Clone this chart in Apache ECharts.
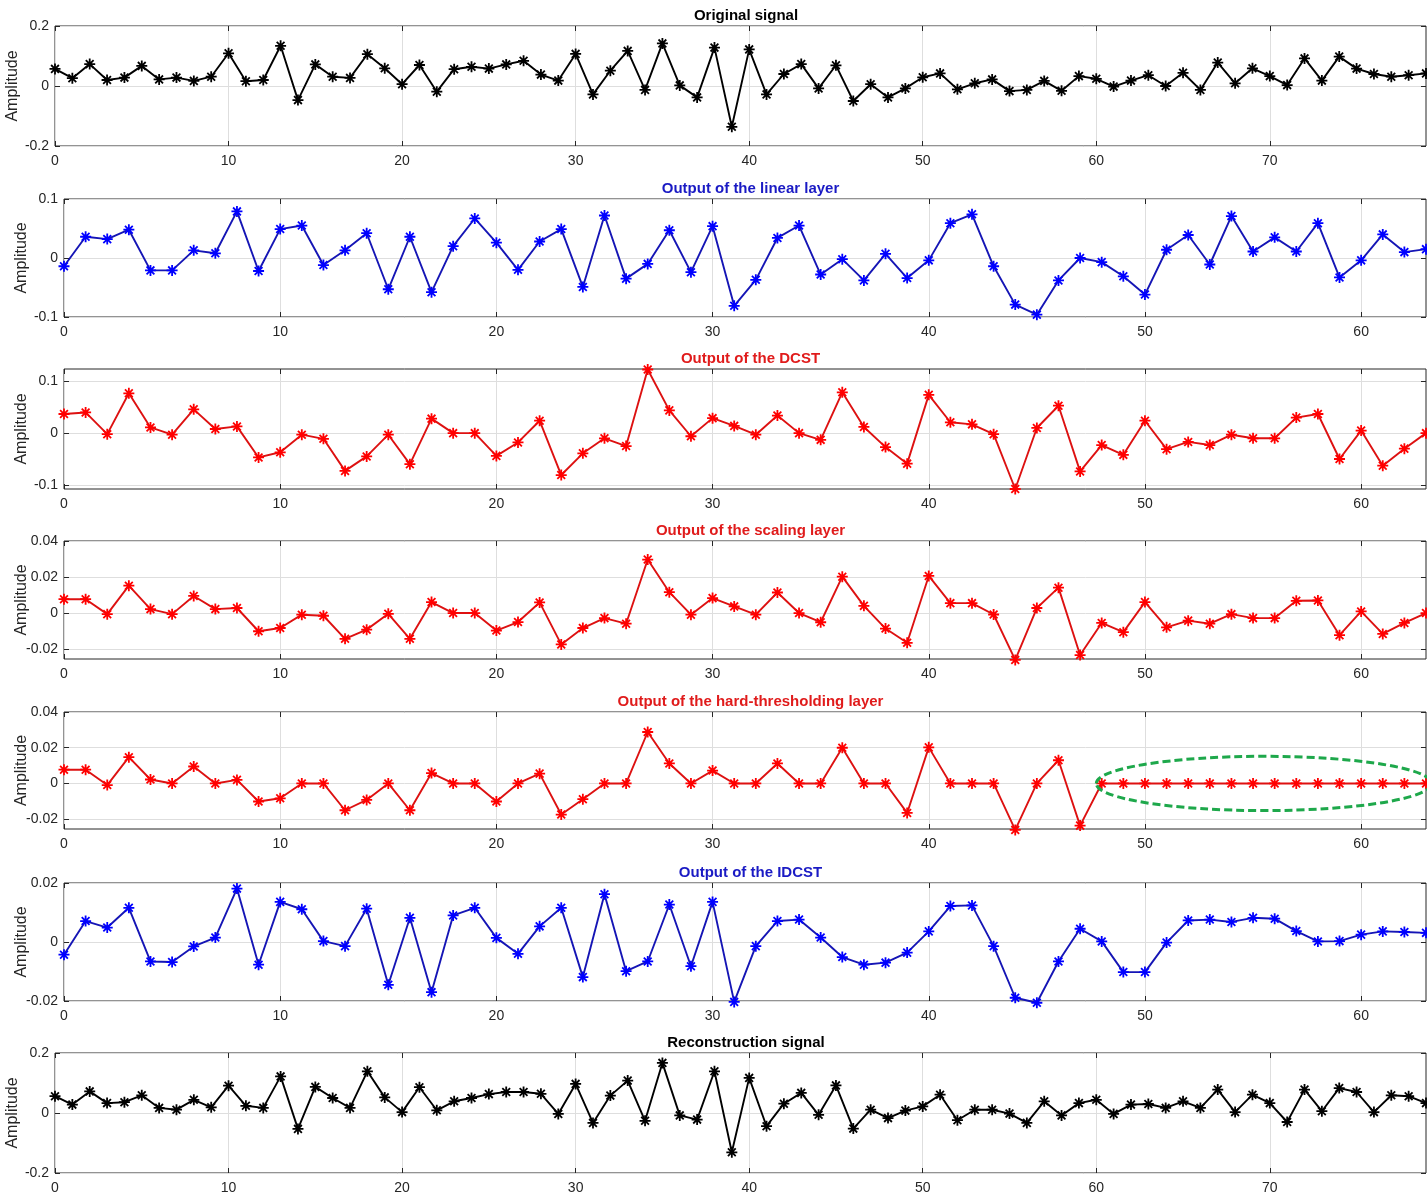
<!DOCTYPE html>
<html><head><meta charset="utf-8">
<script src="https://cdn.jsdelivr.net/npm/echarts@6/dist/echarts.min.js"></script>
<style>html,body{margin:0;padding:0;background:#fff}#c{width:1427px;height:1198px}</style>
</head><body><div id="c"></div>
<script>
// ---------------- data ----------------
const originalSignal = [0.057,0.026,0.073,0.020,0.028,0.067,0.022,0.028,0.017,0.031,
  0.109,0.016,0.020,0.134,-0.047,0.072,0.031,0.027,0.106,0.059,
  0.006,0.070,-0.019,0.056,0.064,0.058,0.072,0.084,0.038,0.018,
  0.107,-0.028,0.051,0.117,-0.013,0.142,0.002,-0.038,0.128,-0.136,
  0.122,-0.028,0.040,0.073,-0.008,0.069,-0.050,0.006,-0.038,-0.008,
  0.029,0.042,-0.011,0.009,0.022,-0.017,-0.013,0.017,-0.016,0.033,
  0.024,-0.002,0.018,0.036,0.000,0.044,-0.013,0.078,0.009,0.059,
  0.033,0.003,0.092,0.018,0.098,0.058,0.040,0.031,0.036,0.042];
const linearOutput = [-0.014,0.036,0.032,0.048,-0.021,-0.021,0.013,0.008,0.079,-0.022,
  0.049,0.055,-0.012,0.013,0.042,-0.053,0.036,-0.058,0.020,0.067,
  0.026,-0.020,0.028,0.049,-0.049,0.072,-0.035,-0.010,0.047,-0.024,
  0.054,-0.081,-0.037,0.034,0.055,-0.028,-0.002,-0.038,0.007,-0.034,
  -0.004,0.059,0.074,-0.014,-0.079,-0.096,-0.038,0.000,-0.007,-0.031,
  -0.062,0.014,0.039,-0.011,0.071,0.011,0.035,0.011,0.059,-0.033,
  -0.004,0.040,0.010,0.015];
const dcstOutput = [0.037,0.040,-0.002,0.077,0.011,-0.003,0.046,0.008,0.013,-0.047,
  -0.037,-0.003,-0.011,-0.073,-0.045,-0.003,-0.060,0.028,0.000,0.000,
  -0.044,-0.018,0.024,-0.081,-0.039,-0.010,-0.025,0.123,0.044,-0.006,
  0.029,0.014,-0.003,0.034,0.000,-0.013,0.079,0.012,-0.027,-0.059,
  0.074,0.021,0.017,-0.002,-0.108,0.010,0.053,-0.074,-0.023,-0.042,
  0.024,-0.031,-0.017,-0.023,-0.003,-0.010,-0.010,0.030,0.037,-0.050,
  0.005,-0.063,-0.030,0.000];
const scalingOutput = [0.0077,0.0077,-0.0006,0.0152,0.0022,-0.0006,0.0095,0.0022,0.0028,-0.0101,
  -0.0083,-0.0009,-0.0015,-0.0143,-0.0092,-0.0004,-0.0143,0.0061,0.0000,0.0000,
  -0.0097,-0.0050,0.0059,-0.0174,-0.0083,-0.0028,-0.0059,0.0297,0.0116,-0.0009,
  0.0083,0.0037,-0.0009,0.0114,0.0000,-0.0051,0.0202,0.0040,-0.0086,-0.0165,
  0.0206,0.0055,0.0055,-0.0008,-0.0260,0.0028,0.0141,-0.0233,-0.0055,-0.0106,
  0.0061,-0.0079,-0.0042,-0.0059,-0.0006,-0.0028,-0.0028,0.0068,0.0070,-0.0123,
  0.0009,-0.0116,-0.0055,0.0000];
const thresholdOutput = [0.0077,0.0077,-0.0009,0.0147,0.0022,0,0.0095,0,0.0020,-0.0101,
  -0.0083,0,0,-0.0150,-0.0092,0,-0.0150,0.0058,0,0,
  -0.0101,0,0.0055,-0.0174,-0.0088,0,0,0.0288,0.0112,0,
  0.0072,0,0,0.0112,0,0,0.0200,0,0,-0.0165,
  0.0202,0,0,0,-0.0260,0,0.0130,-0.0236,0,0,
  0,0,0,0,0,0,0,0,0,0,
  0,0,0,0];
const idcstOutput = [-0.0043,0.0071,0.0049,0.0116,-0.0066,-0.0068,-0.0015,0.0015,0.0181,-0.0077,
  0.0136,0.0111,0.0003,-0.0014,0.0113,-0.0145,0.0082,-0.0170,0.0090,0.0116,
  0.0014,-0.0040,0.0053,0.0116,-0.0119,0.0162,-0.0099,-0.0066,0.0127,-0.0082,
  0.0136,-0.0203,-0.0014,0.0071,0.0076,0.0015,-0.0051,-0.0077,-0.0070,-0.0036,
  0.0036,0.0122,0.0124,-0.0014,-0.0189,-0.0206,-0.0066,0.0045,0.0002,-0.0102,
  -0.0102,-0.0002,0.0073,0.0076,0.0068,0.0082,0.0079,0.0037,0.0002,0.0003,
  0.0025,0.0036,0.0034,0.0031];
const reconstructionSignal = [0.056,0.028,0.072,0.033,0.036,0.059,0.017,0.011,0.044,0.019,
  0.091,0.024,0.017,0.122,-0.053,0.087,0.050,0.017,0.139,0.052,
  0.003,0.086,0.009,0.039,0.050,0.063,0.070,0.070,0.064,-0.003,
  0.097,-0.033,0.058,0.108,-0.026,0.167,-0.008,-0.022,0.139,-0.131,
  0.117,-0.044,0.031,0.067,-0.006,0.092,-0.052,0.011,-0.017,0.008,
  0.022,0.061,-0.024,0.011,0.011,-0.002,-0.033,0.039,-0.008,0.033,
  0.044,-0.003,0.028,0.030,0.017,0.039,0.017,0.078,0.003,0.061,
  0.033,-0.030,0.078,0.006,0.083,0.070,0.003,0.059,0.056,0.033];

const panelTitles = ['Original signal','Output of the linear layer','Output of the DCST',
  'Output of the scaling layer','Output of the hard-thresholding layer','Output of the IDCST',
  'Reconstruction signal'];
const xTicksLong = [0,10,20,30,40,50,60,70];
const xTicksShort = [0,10,20,30,40,50,60];
const yTickLists = [[-0.2,0,0.2],[-0.1,0,0.1],[-0.1,0,0.1],[-0.02,0,0.02,0.04],
  [-0.02,0,0.02,0.04],[-0.02,0,0.02],[-0.2,0,0.2]];
const yRanges = [[-0.2,0.2],[-0.1,0.1],[-0.108,0.124],[-0.0255,0.04],[-0.0255,0.04],[-0.02,0.02],[-0.2,0.2]];
const xMaxes = [79,63,63,63,63,63,79];
// annotation ellipse (data units, panel 5)
const ellipseCenter = [55.5, 0];
const ellipseRadii = [7.75, 0.0152];

// ---------------- style ----------------
const BLACK = {line:'#000000', mark:'#000000', title:'#000000'};
const BLUE = {line:'#1515b5', mark:'#0000ff', title:'#1a1ac4'};
const RED = {line:'#dd1111', mark:'#ff0000', title:'#e01b1b'};
const panelColors = [BLACK,BLUE,RED,RED,RED,BLUE,BLACK];
const panelData = [originalSignal,linearOutput,dcstOutput,scalingOutput,thresholdOutput,idcstOutput,reconstructionSignal];
const layout = [
  {left:55, top:26, height:120},
  {left:64, top:199, height:118},
  {left:64, top:369, height:120},
  {left:64, top:541, height:118},
  {left:64, top:712, height:117},
  {left:64, top:883, height:118},
  {left:55, top:1053, height:120}
];
const FONT = 'Liberation Sans, Arial, Helvetica, sans-serif';
const STAR = 'path://M5 0L5 10M0 5L10 5M1.46 1.46L8.54 8.54M1.46 8.54L8.54 1.46';
const W = 1427;

const grids=[], xAxes=[], yAxes=[], series=[], titles=[];
panelData.forEach((vals, i) => {
  const L = layout[i];
  grids.push({left:L.left, top:L.top, height:L.height, right:1, show:true,
    borderColor:'#262626', borderWidth:1, backgroundColor:'#fff', containLabel:false,
    outerBoundsMode:'none'});
  const xt = xMaxes[i] === 79 ? xTicksLong : xTicksShort;
  const gridLine = {show:true, lineStyle:{color:'#dedede', width:1}};
  const noLine = {show:false, onZero:false};
  // bottom x
  xAxes.push({type:'value', gridIndex:i, min:0, max:xMaxes[i], position:'bottom',
    axisLine:noLine,
    axisTick:{show:true, inside:true, length:5, lineStyle:{color:'#262626'}, customValues:xt},
    axisLabel:{customValues:xt, fontFamily:FONT, fontSize:14, color:'#262626', margin:8},
    splitLine:gridLine});
  // top x (ticks only)
  xAxes.push({type:'value', gridIndex:i, min:0, max:xMaxes[i], position:'top',
    axisLine:noLine,
    axisTick:{show:true, inside:true, length:5, lineStyle:{color:'#262626'}, customValues:xt},
    axisLabel:{show:false}, splitLine:{show:false}});
  const yt = yTickLists[i];
  yAxes.push({type:'value', gridIndex:i, min:yRanges[i][0], max:yRanges[i][1], position:'left',
    name:'Amplitude', nameLocation:'middle', nameGap:34, nameMoveOverlap:false,
    nameTextStyle:{fontFamily:FONT, fontSize:16, color:'#262626'},
    axisLine:noLine,
    axisTick:{show:true, inside:true, length:5, lineStyle:{color:'#262626'}, customValues:yt},
    axisLabel:{customValues:yt, fontFamily:FONT, fontSize:14, color:'#262626', margin:6},
    splitLine:gridLine});
  yAxes.push({type:'value', gridIndex:i, min:yRanges[i][0], max:yRanges[i][1], position:'right',
    axisLine:noLine,
    axisTick:{show:true, inside:true, length:5, lineStyle:{color:'#262626'}, customValues:yt},
    axisLabel:{show:false}, splitLine:{show:false}});
  const c = panelColors[i];
  series.push({type:'line', xAxisIndex:2*i, yAxisIndex:2*i,
    data: vals.map((v,k)=>[k,v]),
    symbol:STAR, symbolSize:11, showSymbol:true,
    lineStyle:{color:c.line, width:1.9},
    itemStyle:{color:c.mark, borderColor:c.mark, borderWidth:1.8},
    emphasis:{disabled:true}, silent:true, z:3, clip:false});
  titles.push({text:panelTitles[i], left:(L.left + W)/2, top:L.top-23, textAlign:'center',
    textStyle:{fontFamily:FONT, fontSize:15, fontWeight:'bold', color:c.title}});
});

const chart = echarts.init(document.getElementById('c'), null, {renderer:'canvas'});
chart.setOption({animation:false, backgroundColor:'#fff', title:titles,
  grid:grids, xAxis:xAxes, yAxis:yAxes, series:series});

// green dashed ellipse annotation on the hard-thresholding panel
const cPix = chart.convertToPixel({xAxisIndex:8, yAxisIndex:8}, ellipseCenter);
const ePix = chart.convertToPixel({xAxisIndex:8, yAxisIndex:8},
  [ellipseCenter[0]+ellipseRadii[0], ellipseCenter[1]+ellipseRadii[1]]);
chart.setOption({graphic:[{type:'ellipse', z:100,
  shape:{cx:cPix[0], cy:cPix[1], rx:Math.abs(ePix[0]-cPix[0]), ry:Math.abs(cPix[1]-ePix[1])},
  style:{fill:null, stroke:'#1ea84b', lineWidth:3, lineDash:[8,4]}}]});
</script></body></html>
